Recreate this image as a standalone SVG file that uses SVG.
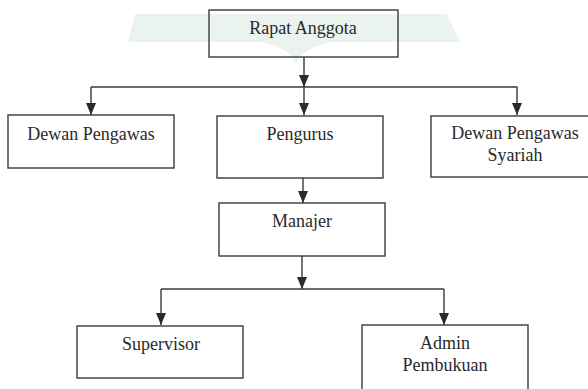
<svg xmlns="http://www.w3.org/2000/svg" width="588" height="389" viewBox="0 0 588 389">
<style>
.box{fill:none;stroke:#3a3a3a;stroke-width:1.4}
.lbl{font-family:'Liberation Serif','DejaVu Serif',serif;font-size:18px;fill:#2a2a2a;text-anchor:middle}
.con{fill:none;stroke:#3a3a3a;stroke-width:1.4}
</style>
<defs>
<marker id="ah" markerUnits="userSpaceOnUse" markerWidth="12" markerHeight="10" viewBox="0 0 12 10" refX="12" refY="5" orient="auto">
<path d="M0,0 L12,5 L0,10 Z" fill="#2a2a2a"/>
</marker>
</defs>
<g id="watermark">
<polygon points="135,14 447,14 460,42 128,42" fill="#ebf3ee"/>
<path d="M262,42 Q295,50 296,66 Q298,50 330,42 Z" fill="#ebf3ee"/>
</g>
<g id="connectors">
<line class="con" x1="304" y1="57" x2="304" y2="87" marker-end="url(#ah)"/>
<polyline class="con" points="91,87 517,87 517,115" marker-end="url(#ah)"/>
<line class="con" x1="91" y1="87" x2="91" y2="115" marker-end="url(#ah)"/>
<line class="con" x1="304" y1="87" x2="304" y2="115" marker-end="url(#ah)"/>
<line class="con" x1="303" y1="178" x2="303" y2="203" marker-end="url(#ah)"/>
<line class="con" x1="302" y1="256" x2="302" y2="289" marker-end="url(#ah)"/>
<polyline class="con" points="161,289 444,289"/>
<line class="con" x1="161" y1="289" x2="161" y2="325" marker-end="url(#ah)"/>
<line class="con" x1="444" y1="289" x2="444" y2="325" marker-end="url(#ah)"/>
</g>
<g id="rapat-anggota">
<rect class="box" x="209" y="10" width="189" height="47"/>
<text class="lbl" x="303" y="34">Rapat Anggota</text>
</g>
<g id="dewan-pengawas">
<rect class="box" x="8" y="115" width="166" height="53"/>
<text class="lbl" x="91" y="140">Dewan Pengawas</text>
</g>
<g id="pengurus">
<rect class="box" x="217" y="116" width="166" height="62"/>
<text class="lbl" x="300" y="140">Pengurus</text>
</g>
<g id="dewan-pengawas-syariah">
<rect class="box" x="431" y="116" width="172" height="61"/>
<text class="lbl" x="515" y="139">Dewan Pengawas</text>
<text class="lbl" x="515" y="161">Syariah</text>
</g>
<g id="manajer">
<rect class="box" x="219" y="203" width="166" height="53"/>
<text class="lbl" x="302" y="227">Manajer</text>
</g>
<g id="supervisor">
<rect class="box" x="77" y="326" width="166" height="52"/>
<text class="lbl" x="161" y="350">Supervisor</text>
</g>
<g id="admin-pembukuan">
<rect class="box" x="362" y="325" width="166" height="70"/>
<text class="lbl" x="445" y="349">Admin</text>
<text class="lbl" x="445" y="371">Pembukuan</text>
</g>
</svg>
